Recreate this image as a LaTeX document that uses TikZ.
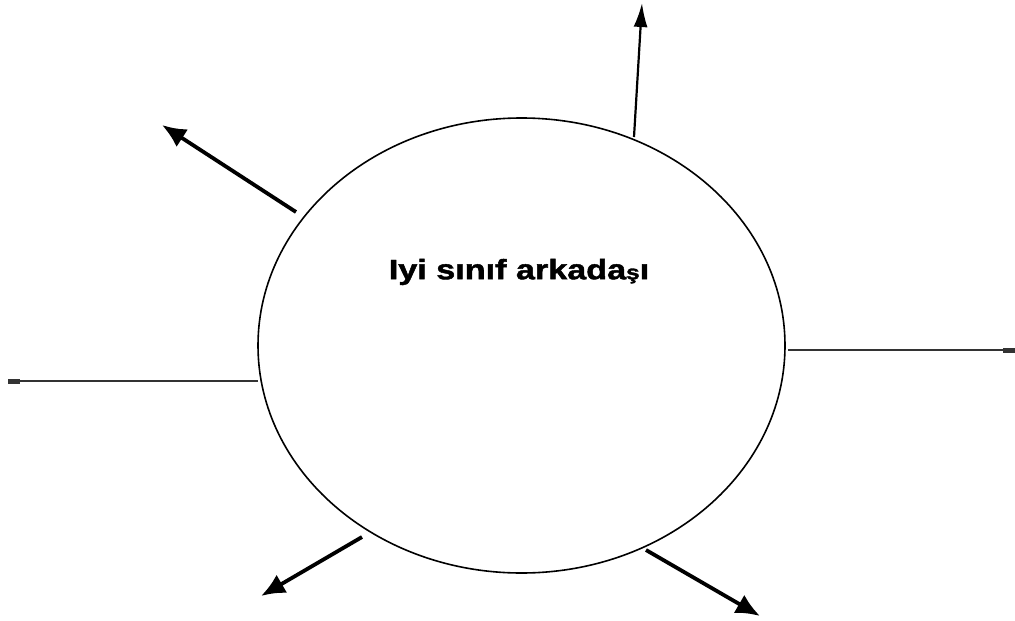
\documentclass[tikz,border=0pt]{standalone}
\usepackage{fontspec}
\setmainfont{Liberation Sans}
\newfontfamily\heavyfont[FakeBold=1.5]{Liberation Sans Bold}
\usetikzlibrary{arrows.meta,shapes.geometric}
\begin{document}
\begin{tikzpicture}[x=1pt,y=-1pt,
  thinarrow/.style={line width=2.2pt,-{Latex[length=24pt,width=14pt]}},
  thickarrow/.style={line width=3.8pt,-{Latex[length=24pt,width=21pt]}},
  flatarrow/.style={line width=2pt,color=black!80,-{Rectangle[length=12pt,width=5pt]}}]
\useasboundingbox (0,0) rectangle (1015,621);
\node[draw,ellipse,line width=1.6pt,minimum width=527pt,minimum height=455pt,inner sep=0pt] (c) at (521.5,345.5) {};
\node[font=\heavyfont\fontsize{28}{32}\selectfont,xscale=1.22] (t) at (519,272) {Iyi sınıf arkada\raisebox{0pt}{\fontsize{20}{24}\selectfont ş}ı};
\coordinate (s1) at (634,137); \coordinate (e1) at (642,3);
\coordinate (s2) at (296,212); \coordinate (e2) at (162,125);
\coordinate (s3) at (258,381); \coordinate (e3) at (8,381);
\coordinate (s4) at (788,350); \coordinate (e4) at (1015,350);
\coordinate (s5) at (362,537); \coordinate (e5) at (261,596);
\coordinate (s6) at (646,550); \coordinate (e6) at (760,616);
\draw[thinarrow] (s1) -- (e1);
\draw[thickarrow] (s2) -- (e2);
\draw[flatarrow] (s3) -- (e3);
\draw[flatarrow] (s4) -- (e4);
\draw[thickarrow] (s5) -- (e5);
\draw[thickarrow] (s6) -- (e6);
\end{tikzpicture}
\end{document}
